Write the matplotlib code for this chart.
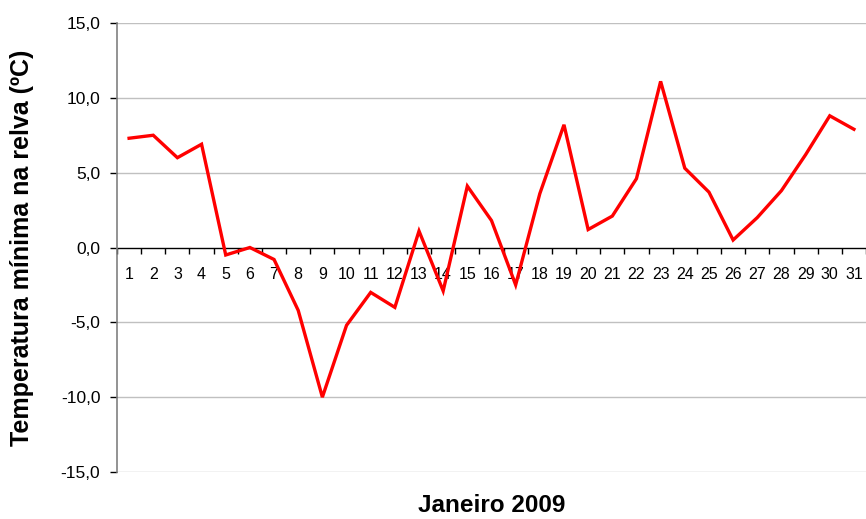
import matplotlib.pyplot as plt
import numpy as np
from matplotlib.ticker import FuncFormatter, FixedLocator

plt.rcParams['font.family'] = ['Liberation Sans', 'DejaVu Sans']

# data
days = list(range(1, 32))
temp_min = [7.3, 7.5, 6.0, 6.9, -0.5, 0.0, -0.8, -4.2, -10.0, -5.2,
            -3.0, -4.0, 1.1, -2.9, 4.1, 1.8, -2.5, 3.6, 8.2, 1.2,
            2.1, 4.6, 11.1, 5.3, 3.7, 0.5, 2.0, 3.8, 6.2, 8.8, 7.9]
y_ticks = [-15, -10, -5, 0, 5, 10, 15]

fig = plt.figure(figsize=(8.66, 5.19), dpi=100)
ax = fig.add_axes([117 / 866, 47 / 519, 749 / 866, 449 / 519])

# horizontal grid
for y in y_ticks:
    if y != 0:
        ax.axhline(y, color='#c0c0c0', lw=1.0, zorder=0)

ax.plot(days, temp_min, color='#ff0000', lw=2.4, zorder=3, solid_joinstyle='miter')

ax.set_xlim(0.5, 31.5)
ax.set_ylim(-15, 15)

# spines
ax.spines['top'].set_visible(False)
ax.spines['right'].set_visible(False)
ax.spines['left'].set_color('#808080')
ax.spines['left'].set_linewidth(1.2)
ax.spines['bottom'].set_position(('data', 0))
ax.spines['bottom'].set_color('black')
ax.spines['bottom'].set_linewidth(1.0)
ax.spines['bottom'].set_zorder(2)

# y axis
ax.set_yticks(y_ticks)
ax.yaxis.set_major_formatter(FuncFormatter(lambda v, p: f"{v:.1f}".replace('.', ',')))
ax.tick_params(axis='y', which='major', length=5, width=1, color='black',
               pad=7, labelsize=12.5)

# x axis: labels at the days, tick marks between them
ax.set_xticks(days)
ax.set_xticklabels([str(d) for d in days])
ax.xaxis.set_minor_locator(FixedLocator(np.arange(0.5, 32, 1)))
ax.tick_params(axis='x', which='major', length=0, pad=14, labelsize=11.5)
ax.tick_params(axis='x', which='minor', length=4, width=1, color='black',
               direction='out')

ax.set_ylabel('Temperatura mínima na relva (ºC)', fontsize=18, fontweight='bold',
              va='center')
ax.yaxis.set_label_coords(-0.127, 0.5)
ax.set_xlabel('Janeiro 2009', fontsize=17.5, fontweight='bold', va='center')
ax.xaxis.set_label_coords(0.5, -0.074)

fig.savefig('out.png', dpi=100)
